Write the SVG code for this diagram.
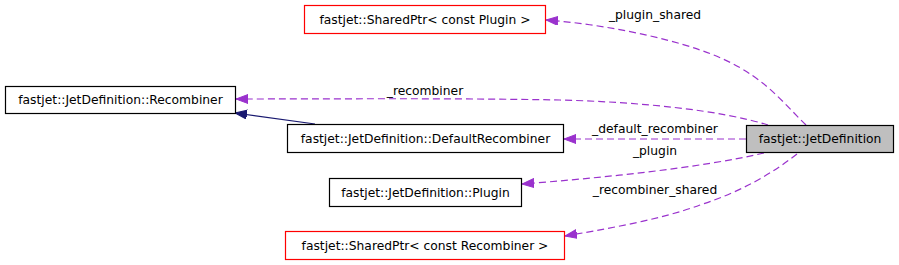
<svg xmlns="http://www.w3.org/2000/svg" width="899" height="265" viewBox="0 0 899 265">
<defs>
<style>
text{font-family:"DejaVu Sans",Verdana,sans-serif;font-size:12.3px;fill:#000}
.n text{text-anchor:middle}
.box{fill:#fff;stroke:#000;stroke-width:1.2}
.red{fill:#fff;stroke:#ff0000;stroke-width:1.2}
.cur{fill:#bfbfbf;stroke:#000;stroke-width:1.2}
.e{fill:none;stroke:#9a32cd;stroke-width:1.2;stroke-dasharray:7,4}
.inh{fill:none;stroke:#191970;stroke-width:1.2}
.lbl{text-anchor:middle}
</style>
<marker id="ap" markerWidth="13" markerHeight="10" refX="12" refY="4.5" orient="auto" markerUnits="userSpaceOnUse"><path d="M0,0 L12,4.5 L0,9 Z" fill="#9a32cd" stroke="#9a32cd"/></marker>
<marker id="an" markerWidth="13" markerHeight="10" refX="12" refY="4.5" orient="auto" markerUnits="userSpaceOnUse"><path d="M0,0 L12,4.5 L0,9 Z" fill="#191970" stroke="#191970"/></marker>
</defs>
<g id="edges">
<path class="inh" d="M315,124 L235,113" marker-end="url(#an)"/>
<path class="e" d="M806,125 C780,100 760,70 700,50 C660,36 600,24 546,20" marker-end="url(#ap)"/>
<path class="e" d="M768,125 C720,110 640,102 560,100 C450,98 330,99 236,99" marker-end="url(#ap)"/>
<path class="e" d="M746,139 L564,139" marker-end="url(#ap)"/>
<path class="e" d="M764,153 C700,168 600,178 522,184" marker-end="url(#ap)"/>
<path class="e" d="M797,154 C770,175 740,192 700,205 C660,220 600,230 565,236" marker-end="url(#ap)"/>
<text class="lbl" x="655" y="19">_plugin_shared</text>
<text class="lbl" x="425" y="95">_recombiner</text>
<text class="lbl" x="655" y="133">_default_recombiner</text>
<text class="lbl" x="655" y="155">_plugin</text>
<text class="lbl" x="655" y="194">_recombiner_shared</text>
</g>
<g id="node-sharedptr-plugin" class="n"><rect class="red" x="304.5" y="5.5" width="241" height="28"/><text x="425" y="23.5">fastjet::SharedPtr&lt; const Plugin &gt;</text></g>
<g id="node-recombiner" class="n"><rect class="box" x="5.5" y="86.5" width="230" height="27"/><text x="120.5" y="104">fastjet::JetDefinition::Recombiner</text></g>
<g id="node-default-recombiner" class="n"><rect class="box" x="287.5" y="124.5" width="276" height="28"/><text x="425.5" y="142.5">fastjet::JetDefinition::DefaultRecombiner</text></g>
<g id="node-plugin" class="n"><rect class="box" x="329.5" y="178.5" width="192" height="28"/><text x="425.5" y="196.5">fastjet::JetDefinition::Plugin</text></g>
<g id="node-sharedptr-recombiner" class="n"><rect class="red" x="285.5" y="231.5" width="279" height="28"/><text x="425" y="249.5">fastjet::SharedPtr&lt; const Recombiner &gt;</text></g>
<g id="node-jetdefinition" class="n"><rect class="cur" x="746.5" y="125.5" width="147" height="27"/><text x="820" y="143">fastjet::JetDefinition</text></g>
</svg>
